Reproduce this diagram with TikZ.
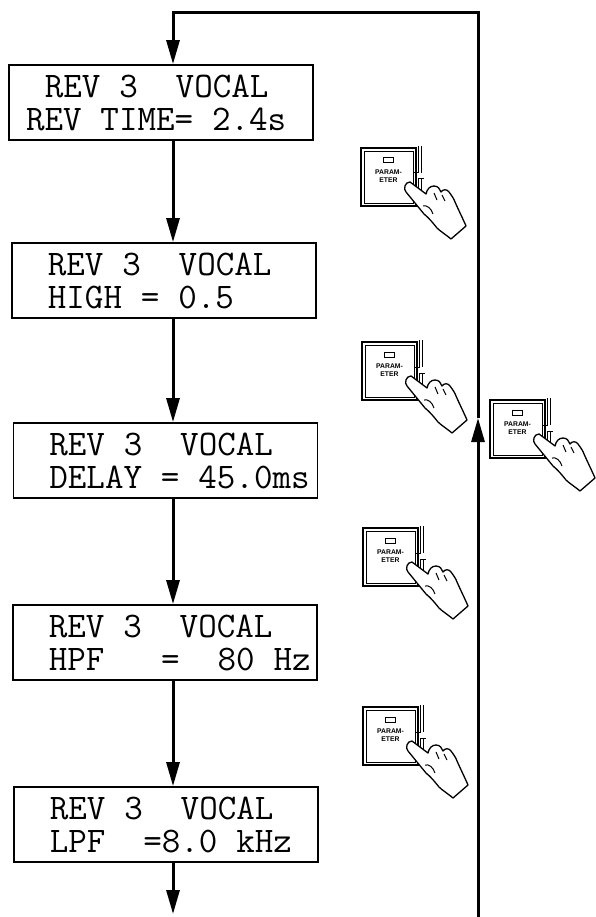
\documentclass[tikz,border=0pt]{standalone}
\usepackage{fontspec}
\newfontfamily\btnfont{Liberation Sans}
\usetikzlibrary{arrows.meta}
\newcommand\lsp{\hspace*{0.525em}}
\tikzset{
  lcd/.style={draw, line width=1.8pt, text width=270pt, inner xsep=17pt, inner ysep=0pt,
    minimum height=75pt, align=left, font=\fontsize{36}{33}\selectfont\ttfamily},
  flow/.style={line width=3pt, -{Triangle[length=24pt,width=13pt]}},
  hand/.style={draw, fill=white, line width=1.3pt, line join=round},
  pics/param/.style={code={
    \draw[line width=1.7pt] (0,0) rectangle (55,58);
    \draw[line width=0.8pt] (3,3) rectangle (52,55);
    \draw[line width=1pt] (22,10) rectangle (32,15);
    \node[font={\btnfont\bfseries\fontsize{6.8}{7.5}\selectfont}, align=center, inner sep=0pt] (-lbl) at (27.5,28) {PARAM-\\ETER};
    \draw[line width=1pt] (57,-2) -- (57,25) -- (53,25);
    \draw[line width=1pt] (60,-2) -- (60,25);
    \draw[line width=1pt] (63,31) -- (57,31) -- (57,48);
    \draw[line width=1pt] (60,31) -- (60,48);
    \draw[hand] (45,44) .. controls (42,41) and (44,34) .. (49,34)
      -- (65,46)
      .. controls (66,41) and (69,38) .. (73,38)
      .. controls (77,38) and (79,41) .. (80,44)
      .. controls (82,41) and (86,41) .. (88,44)
      .. controls (91,48) and (93,51) .. (94,54)
      .. controls (98,63) and (102,71) .. (105,78)
      -- (90,91)
      .. controls (84,86) and (79,83) .. (76,80)
      .. controls (72,75) and (68,70) .. (63,66)
      -- cycle;
    \draw[line width=1pt] (73,45) -- (76,52);
    \draw[line width=1pt] (81,47) -- (84,53);
    \draw[line width=1pt] (62,58) .. controls (66,57) and (70,60) .. (72,66);
  }}
}
\begin{document}
\begin{tikzpicture}[x=1pt,y=-1pt]
\useasboundingbox (0,0) rectangle (595,917);
\node[lcd] (b1) at (161,102.5) {\lsp REV\lsp 3\lsp\lsp VOCAL\\REV\lsp TIME=\lsp 2.4s};
\node[lcd] (b2) at (164,280.5) {\lsp REV\lsp 3\lsp\lsp VOCAL\\\lsp HIGH\lsp =\lsp 0.5};
\node[lcd] (b3) at (165.5,460.5) {\lsp REV\lsp 3\lsp\lsp VOCAL\\\lsp DELAY\lsp =\lsp 45.0ms};
\node[lcd] (b4) at (165,642.5) {\lsp REV\lsp 3\lsp\lsp VOCAL\\\lsp HPF\lsp\lsp\lsp =\lsp\lsp 80\lsp Hz};
\node[lcd] (b5) at (166,824.5) {\lsp REV\lsp 3\lsp\lsp VOCAL\\\lsp LPF\lsp\lsp =8.0\lsp kHz};
\coordinate (ax) at (173,0);
\draw[flow] (b1.south -| ax) -- (b2.north -| ax);
\draw[flow] (b2.south -| ax) -- (b3.north -| ax);
\draw[flow] (b3.south -| ax) -- (b4.north -| ax);
\draw[flow] (b4.south -| ax) -- (b5.north -| ax);
\coordinate (tail) at (173,914);
\draw[flow] (b5.south -| ax) -- (tail);
\coordinate (rb) at (478,917);
\coordinate (ru) at (478,418);
\coordinate (rt) at (478,13);
\coordinate (lt) at (173,13);
\draw[flow] (rb) -- (ru);
\draw[flow] (ru) -- (rt) -- (lt) -- (b1.north -| ax);
\pic (p1) at (361,148) {param};
\pic (p2) at (362,342) {param};
\pic (p3) at (363,528) {param};
\pic (p4) at (363,707) {param};
\pic (p5) at (490,400) {param};
\end{tikzpicture}
\end{document}
